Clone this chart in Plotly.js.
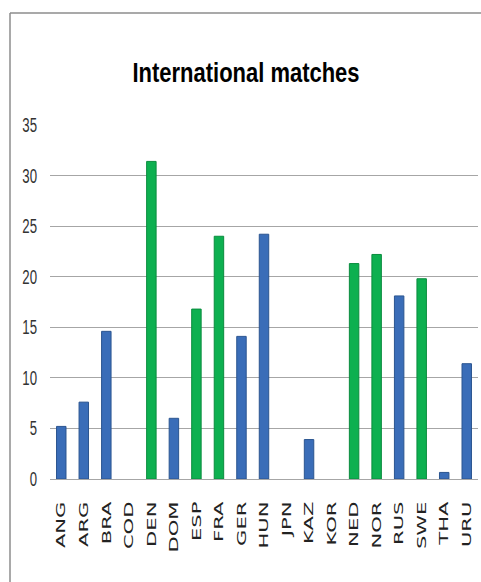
<!DOCTYPE html>
<html>
<head>
<meta charset="utf-8">
<script src="https://cdn.plot.ly/plotly-3.0.1.min.js"></script>
<style>
  html, body { margin: 0; padding: 0; background: #fff; }
  #chart { width: 481px; height: 582px; }
</style>
</head>
<body>
<div id="chart"></div>
<script>
// ---- data ----
const countries = ["ANG","ARG","BRA","COD","DEN","DOM","ESP","FRA","GER","HUN","JPN","KAZ","KOR","NED","NOR","RUS","SWE","THA","URU"];
const matches   = [5.2, 7.6, 14.6, 0, 31.4, 6.0, 16.8, 24.0, 14.1, 24.2, 0, 3.9, 0, 21.3, 22.2, 18.1, 19.8, 0.65, 11.4];
const greenGroup = ["DEN","ESP","FRA","NED","NOR","SWE"];
const yTicks = [0, 5, 10, 15, 20, 25, 30, 35];

const BLUE = "#3a6db8", BLUE_EDGE = "#2b5590";
const GREEN = "#0db050", GREEN_EDGE = "#0a8c3e";

const isGreen = countries.map(c => greenGroup.indexOf(c) >= 0);

const W = 481, H = 582;
const M = { l: 50, r: 3, t: 125, b: 103 };
const pw = W - M.l - M.r, ph = H - M.t - M.b;
const px2x = p => (p - M.l) / pw;
const px2y = p => (H - M.b - p) / ph;

const trace = {
  type: "bar",
  x: countries,
  y: matches,
  width: 0.42,
  marker: {
    color: isGreen.map(g => g ? GREEN : BLUE),
    line: {
      color: isGreen.map(g => g ? GREEN_EDGE : BLUE_EDGE),
      width: matches.map(v => v > 0 ? 1 : 0)
    }
  },
  hoverinfo: "x+y"
};

const sans = "Liberation Sans, Arial, sans-serif";

const layout = {
  width: W, height: H,
  margin: M,
  paper_bgcolor: "#ffffff",
  plot_bgcolor: "#ffffff",
  showlegend: false,
  title: {
    text: "International matches",
    font: { family: sans, size: 28, color: "#000000", weight: "bold" },
    x: 246 / W, xanchor: "center",
    y: 1 - 72 / H, yanchor: "middle"
  },
  xaxis: {
    type: "category",
    tickangle: -90,
    tickfont: { family: "DejaVu Sans, sans-serif", size: 13, color: "#222222" },
    showgrid: false, showline: false, zeroline: false,
    ticks: "",
    ticklabelstandoff: 19
  },
  yaxis: {
    range: [0, 35],
    tickvals: yTicks,
    ticktext: yTicks.map(String),
    tickfont: { family: sans, size: 20, color: "#333333" },
    showgrid: true, gridcolor: "#a6a6a6", gridwidth: 1,
    zeroline: true, zerolinecolor: "#a6a6a6", zerolinewidth: 1,
    showline: false, ticks: "",
    ticklabelstandoff: 12
  },
  shapes: [
    { type: "line", xref: "paper", yref: "paper",
      x0: px2x(10), x1: px2x(10), y0: px2y(H), y1: px2y(13),
      line: { color: "#8c8c8c", width: 1.5 } },
    { type: "line", xref: "paper", yref: "paper",
      x0: px2x(10), x1: px2x(W), y0: px2y(13), y1: px2y(13),
      line: { color: "#8c8c8c", width: 1.5 } }
  ]
};

function squeeze(el, factor) {
  const len = el.getComputedTextLength();
  el.setAttribute("textLength", (len * factor).toFixed(1));
  el.setAttribute("lengthAdjust", "spacingAndGlyphs");
}

Plotly.newPlot("chart", [trace], layout, { displayModeBar: false, staticPlot: true }).then(() => {
  document.querySelectorAll(".xtick text").forEach(t => squeeze(t, 1.62));
  document.querySelectorAll(".ytick text").forEach(t => squeeze(t, 0.66));
  const tt = document.querySelector(".gtitle");
  if (tt) {
    tt.setAttribute("textLength", "227");
    tt.setAttribute("lengthAdjust", "spacingAndGlyphs");
  }
});
</script>
</body>
</html>
